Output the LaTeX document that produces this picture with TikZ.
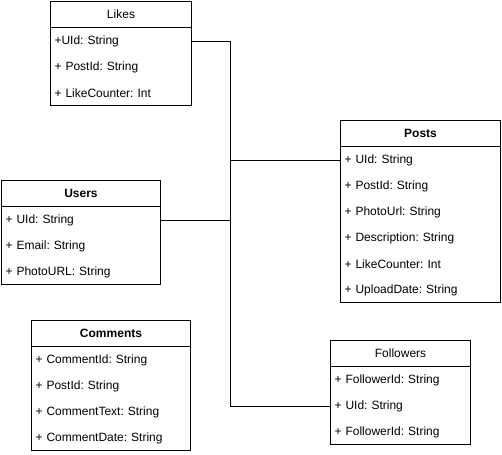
\documentclass[tikz,border=0pt]{standalone}
\usepackage{fontspec}
\setmainfont{Liberation Sans}
\frenchspacing
\begin{document}
\begin{tikzpicture}[x=1pt,y=-1pt,
  line width=1pt,
  box/.style={draw, inner sep=0pt, anchor=north west},
  hdr/.style={draw, inner sep=0pt, minimum height=26pt, anchor=north west, font=\fontsize{12}{14}\selectfont},
  row/.style={inner xsep=4pt, inner ysep=0pt, minimum height=26pt, anchor=north west, align=left, font=\fontsize{12}{14}\selectfont, yshift=-1pt},
  link/.style={draw, line width=1pt}
]
\useasboundingbox (0,0) rectangle (502,454);

% Likes
\node[hdr, minimum width=141pt] (likes) at (50,1) {Likes};
\node[box, minimum width=141pt, minimum height=78pt] (likesbody) at (50,27) {};
\node[row, text width=133pt] (likesuid) at (50,27) {+UId: String};
\node[row, text width=133pt] (likespid) at (50,53) {+ PostId: String};
\node[row, text width=133pt] (likeslc) at (50,79) {+ LikeCounter: Int};

% Posts
\node[hdr, minimum width=160pt, font=\fontsize{12}{14}\selectfont\bfseries] (posts) at (340,120) {Posts};
\node[box, minimum width=160pt, minimum height=156pt] (postsbody) at (340,146) {};
\node[row, text width=152pt] (postsuid) at (340,146) {+ UId: String};
\node[row, text width=152pt] (postspid) at (340,172) {+ PostId: String};
\node[row, text width=152pt] (postsurl) at (340,198) {+ PhotoUrl: String};
\node[row, text width=152pt] (postsdesc) at (340,224) {+ Description: String};
\node[row, text width=152pt] (postslc) at (340,250) {+ LikeCounter: Int};
\node[row, text width=152pt] (postsdate) at (340,276) {+ UploadDate: String};

% Users
\node[hdr, minimum width=159pt, font=\fontsize{12}{14}\selectfont\bfseries] (users) at (1,180) {Users};
\node[box, minimum width=159pt, minimum height=78pt] (usersbody) at (1,206) {};
\node[row, text width=151pt] (usersuid) at (1,206) {+ UId: String};
\node[row, text width=151pt] (usersmail) at (1,232) {+ Email: String};
\node[row, text width=151pt] (usersurl) at (1,258) {+ PhotoURL: String};

% Comments
\node[hdr, minimum width=159pt, font=\fontsize{12}{14}\selectfont\bfseries] (comments) at (31,320) {Comments};
\node[box, minimum width=159pt, minimum height=104pt] (commbody) at (31,346) {};
\node[row, text width=151pt] (commid) at (31,346) {+ CommentId: String};
\node[row, text width=151pt] (commpid) at (31,372) {+ PostId: String};
\node[row, text width=151pt] (commtext) at (31,398) {+ CommentText: String};
\node[row, text width=151pt] (commdate) at (31,424) {+ CommentDate: String};

% Followers
\node[hdr, minimum width=140pt] (followers) at (330,340) {Followers};
\node[box, minimum width=140pt, minimum height=78pt] (follbody) at (330,366) {};
\node[row, text width=132pt] (follid) at (330,366) {+ FollowerId: String};
\node[row, text width=132pt] (folluid) at (330,392) {+ UId: String};
\node[row, text width=132pt] (follid2) at (330,418) {+ FollowerId: String};

% Connectors
\coordinate (spine) at (230,0);
\draw[link] (likesuid.east) -- (likesuid.east -| spine) -- (folluid.west -| spine) -- (folluid.west);
\draw[link] (postsuid.west -| spine) -- (postsuid.west);
\draw[link] (usersuid.east) -- (usersuid.east -| spine);
\end{tikzpicture}
\end{document}
